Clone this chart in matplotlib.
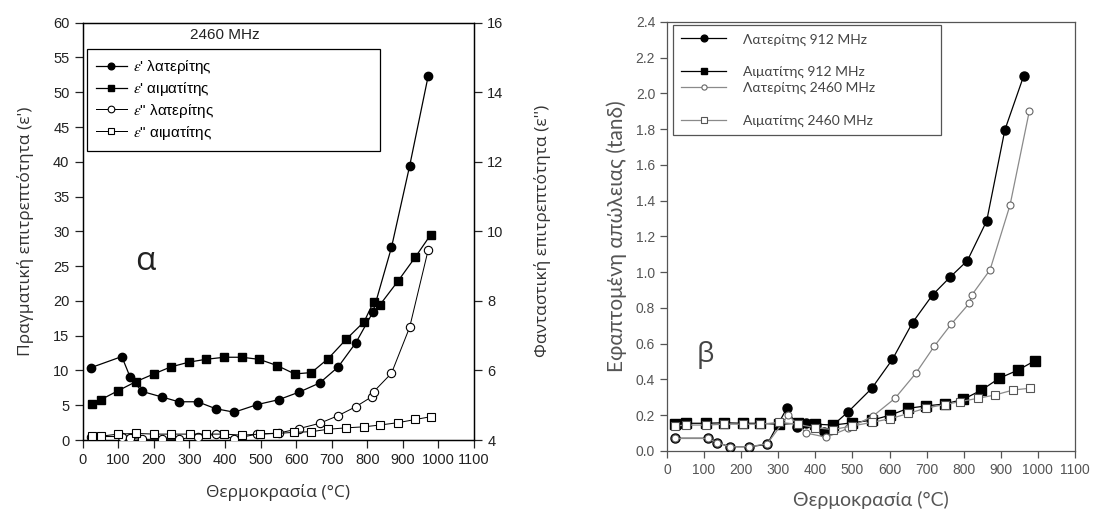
import matplotlib
matplotlib.use("Agg")
import matplotlib.pyplot as plt
from matplotlib.lines import Line2D

plt.rcParams['mathtext.fontset'] = 'stix'

# ---------------- data: left panel (alpha) ----------------
lat_eps1_T = [23, 110, 133, 166, 222, 270, 323, 374, 426, 491, 551, 609, 666, 718, 768, 816, 868, 919, 971]
lat_eps1 = [10.4, 12.0, 9.1, 7.0, 6.2, 5.5, 5.5, 4.5, 4.0, 5.1, 5.8, 6.9, 8.2, 10.5, 14.0, 18.4, 27.7, 39.4, 52.3]

hem_eps1_T = [25, 51, 100, 150, 200, 247, 299, 346, 398, 447, 496, 547, 596, 643, 690, 741, 791, 818, 835, 887, 935, 978]
hem_eps1 = [5.2, 5.8, 7.1, 8.4, 9.5, 10.5, 11.2, 11.6, 11.9, 11.9, 11.6, 10.7, 9.5, 9.7, 11.7, 14.5, 17.0, 19.9, 19.4, 22.9, 26.3, 29.5]

lat_eps2_T = [23, 110, 133, 166, 222, 270, 323, 374, 426, 491, 551, 609, 666, 718, 768, 812, 818, 868, 919, 971]
lat_eps2 = [4.10, 4.10, 4.05, 4.02, 4.02, 4.02, 4.10, 4.16, 4.04, 4.17, 4.20, 4.33, 4.48, 4.70, 4.96, 5.24, 5.39, 5.92, 7.24, 9.46]

hem_eps2_T = [25, 51, 100, 150, 200, 249, 301, 346, 398, 447, 498, 547, 594, 643, 690, 741, 791, 835, 887, 935, 978]
hem_eps2 = [4.11, 4.11, 4.17, 4.19, 4.17, 4.17, 4.17, 4.17, 4.17, 4.14, 4.17, 4.19, 4.22, 4.24, 4.31, 4.35, 4.38, 4.43, 4.50, 4.59, 4.67]

left_labels = ["$\\varepsilon$' λατερίτης", "$\\varepsilon$' αιματίτης",
               "$\\varepsilon$\" λατερίτης", "$\\varepsilon$\" αιματίτης"]

# ---------------- data: right panel (beta) ----------------
lat912_T = [22, 111, 134, 170, 222, 270, 323, 351, 375, 402, 424, 448, 489, 552, 608, 662, 716, 763, 810, 862, 911, 962]
lat912 = [0.071, 0.071, 0.047, 0.024, 0.024, 0.037, 0.239, 0.136, 0.158, 0.145, 0.108, 0.145, 0.22, 0.35, 0.513, 0.718, 0.873, 0.972, 1.065, 1.287, 1.796, 2.10]

hem912_T = [22, 51, 105, 155, 204, 252, 303, 352, 400, 448, 500, 552, 601, 651, 698, 749, 799, 848, 896, 947, 992]
hem912 = [0.151, 0.155, 0.155, 0.158, 0.155, 0.155, 0.149, 0.155, 0.150, 0.145, 0.158, 0.172, 0.20, 0.239, 0.252, 0.263, 0.289, 0.341, 0.407, 0.453, 0.505]

lat2460_T = [22, 111, 134, 170, 222, 270, 327, 376, 430, 489, 556, 615, 671, 721, 767, 815, 822, 871, 925, 977]
lat2460 = [0.07, 0.07, 0.047, 0.024, 0.024, 0.04, 0.20, 0.10, 0.077, 0.127, 0.196, 0.295, 0.435, 0.587, 0.711, 0.826, 0.873, 1.013, 1.376, 1.902]

hem2460_T = [22, 51, 105, 155, 204, 252, 303, 352, 400, 448, 500, 552, 601, 651, 698, 749, 790, 839, 884, 933, 978]
hem2460 = [0.14, 0.145, 0.145, 0.15, 0.15, 0.15, 0.16, 0.15, 0.13, 0.12, 0.14, 0.16, 0.18, 0.21, 0.24, 0.26, 0.276, 0.295, 0.313, 0.341, 0.351]

right_labels = ["Λατερίτης 912 MHz", "Αιματίτης 912 MHz", "Λατερίτης 2460 MHz", "Αιματίτης 2460 MHz"]

x_ticks = list(range(0, 1101, 100))
left_y_ticks = list(range(0, 61, 5))
left_y2_ticks = list(range(4, 17, 2))
right_y_ticks = [0.0, 0.2, 0.4, 0.6, 0.8, 1.0, 1.2, 1.4, 1.6, 1.8, 2.0, 2.2, 2.4]

# ---------------- figure ----------------
fig = plt.figure(figsize=(10.95, 5.15), dpi=100)
tick_font = ['Liberation Sans', 'DejaVu Sans']
label_font = ['Open Sans', 'DejaVu Sans']

# Left panel
ax1 = fig.add_axes([0.0755, 0.1456, 0.3574, 0.8103])
ax2 = ax1.twinx()
lw = 0.9
ms = 6
ax1.plot(lat_eps1_T, lat_eps1, '-o', color='black', lw=lw, ms=ms, mfc='black', mec='black', label=left_labels[0], zorder=3)
ax1.plot(hem_eps1_T, hem_eps1, '-s', color='black', lw=lw, ms=ms, mfc='black', mec='black', label=left_labels[1], zorder=3)
ax2.plot(lat_eps2_T, lat_eps2, '-o', color='black', lw=lw * 0.8, ms=ms, mfc='white', mec='black', mew=0.8, label=left_labels[2], zorder=3)
ax2.plot(hem_eps2_T, hem_eps2, '-s', color='black', lw=lw * 0.8, ms=ms, mfc='white', mec='black', mew=0.8, label=left_labels[3], zorder=3)

ax1.set_xlim(0, 1100)
ax1.set_ylim(0, 60)
ax2.set_ylim(4, 16)
ax1.set_xticks(x_ticks)
ax1.set_yticks(left_y_ticks)
ax2.set_yticks(left_y2_ticks)
for a in (ax1, ax2):
    a.tick_params(direction='out', length=6, width=0.9, labelsize=10.5, colors='#222222')
    for lab in a.get_xticklabels() + a.get_yticklabels():
        lab.set_family(tick_font)
    for s in a.spines.values():
        s.set_linewidth(0.9)
ax1.set_xlabel('Θερμοκρασία (°C)', fontsize=12.5, family=label_font, color='#333333', labelpad=12)
ax1.set_ylabel("Πραγματική επιτρεπτότητα (ε')", fontsize=12.5, family=label_font, color='#333333', labelpad=14)
ax2.set_ylabel("Φανταστική επιτρεπτότητα (ε'')", fontsize=12.5, family=label_font, color='#333333', labelpad=22)

h1, l1 = ax1.get_legend_handles_labels()
h2, l2 = ax2.get_legend_handles_labels()
leg1 = ax2.legend(h1 + h2, l1 + l2, loc='upper left', bbox_to_anchor=(0.011, 0.0, 0.75, 0.937),
                  mode='expand', fancybox=False, edgecolor='black', framealpha=1,
                  prop={'family': tick_font, 'size': 11}, handlelength=2.0, handletextpad=0.4,
                  labelspacing=0.25, borderpad=0.6, markerscale=0.8, borderaxespad=0)
leg1.get_frame().set_linewidth(0.9)
ax1.text(0.364, 0.970, '2460 MHz', transform=ax1.transAxes, ha='center', va='center',
         fontsize=11, family=tick_font, color='#222222')
ax1.text(0.159, 0.427, 'α', transform=ax1.transAxes, ha='center', va='center',
         fontsize=24, family=label_font, color='#222222')

# Right panel
ax3 = fig.add_axes([0.6091, 0.1243, 0.3726, 0.833])
gray = '#8a8a8a'
ax3.plot(lat912_T, lat912, '-o', color='black', lw=0.9, ms=6.5, mfc='black', mec='black', label=right_labels[0], zorder=3)
ax3.plot(hem912_T, hem912, '-s', color='black', lw=0.9, ms=6.5, mfc='black', mec='black', label=right_labels[1], zorder=3)
ax3.plot(lat2460_T, lat2460, '-o', color=gray, lw=0.9, ms=5, mfc='white', mec='#666666', mew=0.8, label=right_labels[2], zorder=3)
ax3.plot(hem2460_T, hem2460, '-s', color=gray, lw=0.9, ms=5.5, mfc='white', mec='#555555', mew=0.8, label=right_labels[3], zorder=3)
ax3.set_xlim(0, 1100)
ax3.set_ylim(0, 2.4)
ax3.set_xticks(x_ticks)
ax3.set_yticks(right_y_ticks)
ax3.set_yticklabels([f'{v:.1f}' for v in right_y_ticks])
ax3.tick_params(direction='out', length=5, width=0.9, labelsize=10, colors='#555555')
for lab in ax3.get_xticklabels() + ax3.get_yticklabels():
    lab.set_family(tick_font)
for s in ax3.spines.values():
    s.set_linewidth(0.9)
    s.set_color('#555555')
ax3.set_xlabel('Θερμοκρασία (°C)', fontsize=14, family=['Lato', 'DejaVu Sans'], color='#555555', labelpad=10)
ax3.set_ylabel('Εφαπτομένη απώλειας (tanδ)', fontsize=15, family=['Lato', 'DejaVu Sans'], color='#555555', labelpad=6)

h3, l3 = ax3.get_legend_handles_labels()
blank = Line2D([], [], linestyle='none', marker=None)
hs = [h3[0], blank, h3[1], h3[2], blank, h3[3]]
ls = [l3[0], ' ', l3[1], l3[2], ' ', l3[3]]
leg3 = ax3.legend(hs, ls, loc='upper left', bbox_to_anchor=(0.015, 0.0, 0.657, 0.993), mode='expand',
                  fancybox=False, edgecolor='#555555', framealpha=1,
                  prop={'family': ['Lato', 'DejaVu Sans'], 'size': 10}, labelcolor='#444444',
                  handlelength=3.2, handletextpad=1.2, labelspacing=0.3, borderpad=0.6, borderaxespad=0,
                  markerscale=0.75)
leg3.get_frame().set_linewidth(0.9)
ax3.text(0.093, 0.224, 'β', transform=ax3.transAxes, ha='center', va='center',
         fontsize=20, family=label_font, color='#444444')

fig.savefig('out.png', dpi=100)
